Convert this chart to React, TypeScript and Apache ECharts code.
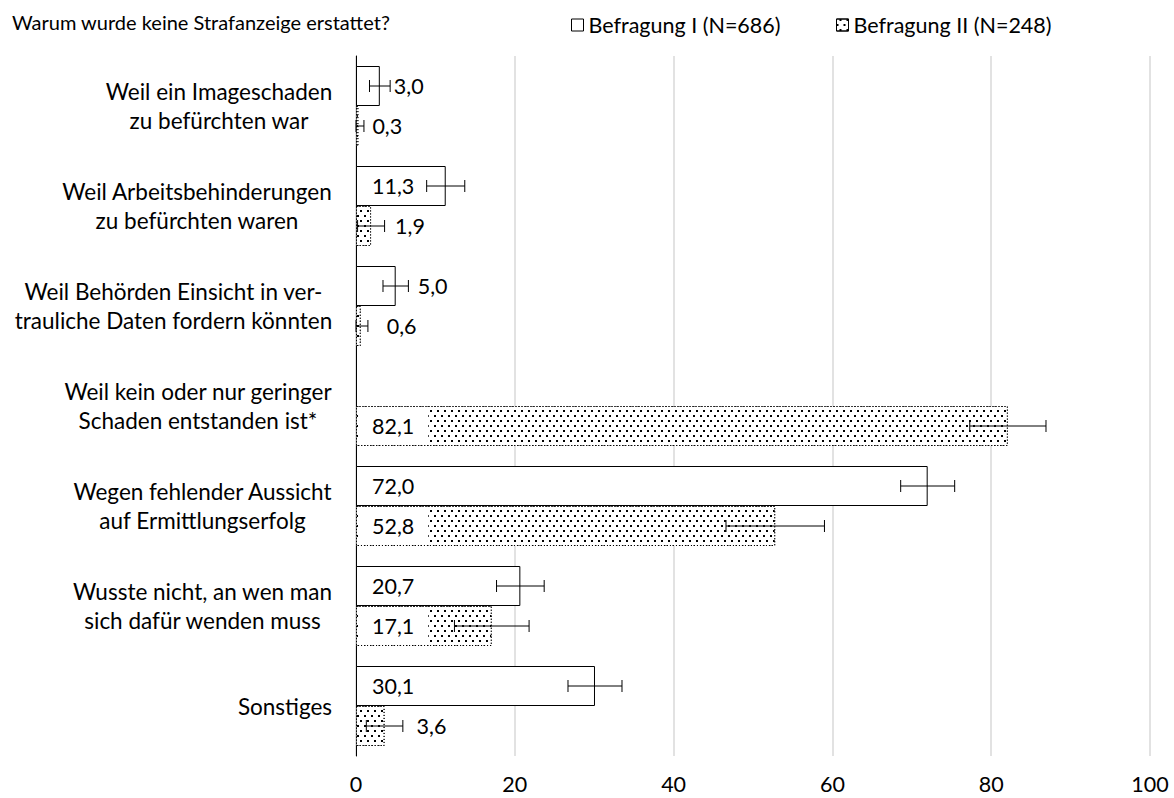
import React, { useEffect, useRef } from "react";
import * as echarts from "echarts";

// ---------- data ----------
const title = "Warum wurde keine Strafanzeige erstattet?";
const seriesNames = ["Befragung I (N=686)", "Befragung II (N=248)"];
const categories = [
  "Weil ein Imageschaden\nzu befürchten war",
  "Weil Arbeitsbehinderungen\nzu befürchten waren",
  "Weil Behörden Einsicht in ver-\ntrauliche Daten fordern könnten",
  "Weil kein oder nur geringer\nSchaden entstanden ist*",
  "Wegen fehlender Aussicht\nauf Ermittlungserfolg",
  "Wusste nicht, an wen man\nsich dafür wenden muss",
  "Sonstiges",
];
const befragungI: (number | null)[] = [3.0, 11.3, 5.0, null, 72.0, 20.7, 30.1];
const befragungII: (number | null)[] = [0.3, 1.9, 0.6, 82.1, 52.8, 17.1, 3.6];
const errorI: (number | null)[] = [1.3, 2.4, 1.6, null, 3.4, 3.0, 3.4];
const errorII: (number | null)[] = [0.7, 1.7, 0.9, 4.8, 6.2, 4.7, 2.3];
const xTicks = { min: 0, max: 100, interval: 20 };

// ---------- style / layout ----------
const FONT = "Lato, 'Open Sans', sans-serif";
const FS = 21.5;
const CAT_FS = 22.5;
const TITLE_FS = 20;
const outsideGapI = [14, 0, 22, 0, 0, 0, 0];
const outsideGapII = [14, 24, 26, 0, 0, 0, 32];
const insideThreshold = 10;

const decal = {
  symbol: "rect",
  symbolSize: 1,
  color: "#000",
  dashArrayX: [
    [1.5, 4.5],
    [0, 3, 1.5, 1.5],
  ],
  dashArrayY: [1.5, 2.5],
};

function fmt(v: number) {
  return v.toFixed(1).replace(".", ",");
}

function measure(text: string): number {
  const c = document.createElement("canvas");
  const ctx = c.getContext("2d")!;
  ctx.font = `${CAT_FS}px ${FONT}`;
  return ctx.measureText(text).width;
}

function barData(values: (number | null)[], gaps: number[]) {
  return values.map((v, i) => {
    if (v == null) return { value: null };
    const inside = v >= insideThreshold;
    return {
      value: v,
      label: inside
        ? {
            show: true,
            position: "insideLeft",
            distance: 2,
            backgroundColor: "#fff",
            padding: [5, 14],
          }
        : { show: true, position: "right", distance: gaps[i] },
    };
  });
}

function errData(values: (number | null)[], errs: (number | null)[]) {
  const out: any[] = [];
  values.forEach((v, i) => {
    if (v == null || errs[i] == null) return;
    out.push([v, i, errs[i]]);
  });
  return out;
}

function errSeries(data: any[], sign: number) {
  return {
    type: "custom",
    z: 5,
    silent: true,
    data,
    encode: { x: 0, y: 1 },
    renderItem: (params: any, api: any) => {
      const v = api.value(0);
      const idx = api.value(1);
      const e = api.value(2);
      const band = api.size([0, 1])[1];
      const lo = api.coord([Math.max(0, v - e), idx]);
      const hi = api.coord([v + e, idx]);
      const y = lo[1] + sign * band * 0.2;
      const cap = 6;
      const style = { stroke: "#000", lineWidth: 1 };
      return {
        type: "group",
        children: [
          { type: "line", shape: { x1: lo[0], y1: y, x2: hi[0], y2: y }, style },
          { type: "line", shape: { x1: lo[0], y1: y - cap, x2: lo[0], y2: y + cap }, style },
          { type: "line", shape: { x1: hi[0], y1: y - cap, x2: hi[0], y2: y + cap }, style },
        ],
      };
    },
  };
}

export default function App() {
  const ref = useRef<HTMLDivElement>(null);

  useEffect(() => {
    if (!ref.current) return;
    const chart = echarts.init(ref.current, undefined, { renderer: "svg" });

    const rich: any = {};
    categories.forEach((c, i) => {
      const w = Math.max(...c.split("\n").map(measure));
      rich["c" + i] = {
        width: Math.ceil(w) + 1,
        align: "center",
        fontSize: CAT_FS,
        fontFamily: FONT,
        color: "#000",
        lineHeight: 29,
      };
    });

    const labelBase = {
      fontSize: FS,
      fontFamily: FONT,
      color: "#000",
      formatter: (p: any) => fmt(p.value),
    };

    chart.setOption({
      animation: false,
      backgroundColor: "#fff",
      textStyle: { fontFamily: FONT },
      title: {
        text: title,
        left: 7,
        top: 7,
        textStyle: { fontSize: TITLE_FS, fontWeight: "normal", color: "#000", fontFamily: FONT },
      },
      legend: [
        {
          left: 566,
          top: 9,
          icon: "rect",
          itemWidth: 12,
          itemHeight: 12,
          textStyle: { fontSize: FS, color: "#000", fontFamily: FONT },
          data: [
            {
              name: seriesNames[0],
              itemStyle: { color: "#fff", borderColor: "#000", borderWidth: 1 },
            },
          ],
        },
        {
          left: 831,
          top: 9,
          icon: "rect",
          itemWidth: 12,
          itemHeight: 12,
          textStyle: { fontSize: FS, color: "#000", fontFamily: FONT },
          data: [
            {
              name: seriesNames[1],
              itemStyle: { color: "#fff", borderColor: "#000", borderWidth: 1, decal },
            },
          ],
        },
      ],
      grid: { left: 356, right: 24, top: 56, bottom: 42, containLabel: false },
      xAxis: {
        type: "value",
        min: xTicks.min,
        max: xTicks.max,
        interval: xTicks.interval,
        axisLine: { show: false },
        axisTick: { show: false },
        splitLine: { show: true, lineStyle: { color: "#d9d9d9", width: 1.5 } },
        axisLabel: { fontSize: FS, fontFamily: FONT, color: "#000", margin: 17 },
      },
      yAxis: {
        type: "category",
        inverse: true,
        data: categories,
        axisLine: { show: true, lineStyle: { color: "#000", width: 1 } },
        axisTick: { show: false },
        axisLabel: {
          margin: 23,
          fontSize: CAT_FS,
          fontFamily: FONT,
          color: "#000",
          lineHeight: 29,
          formatter: (value: string, idx: number) =>
            value
              .split("\n")
              .map((l) => `{c${idx}|${l}}`)
              .join("\n"),
          rich,
        },
      },
      series: [
        {
          name: seriesNames[0],
          type: "bar",
          barGap: "0%",
          barCategoryGap: "20%",
          itemStyle: { color: "#fff", borderColor: "#000", borderWidth: 1 },
          label: labelBase,
          data: barData(befragungI, outsideGapI),
        },
        {
          name: seriesNames[1],
          type: "bar",
          barGap: "0%",
          barCategoryGap: "20%",
          itemStyle: {
            color: "#fff",
            borderColor: "#000",
            borderWidth: 1,
            borderType: [1, 2],
            decal,
          },
          label: labelBase,
          data: barData(befragungII, outsideGapII),
        },
        errSeries(errData(befragungI, errorI), -1),
        errSeries(errData(befragungII, errorII), 1),
      ],
    });

    return () => chart.dispose();
  }, []);

  return (
    <div
      ref={ref}
      style={{ position: "fixed", left: 0, top: 0, width: 1174, height: 798 }}
    />
  );
}
